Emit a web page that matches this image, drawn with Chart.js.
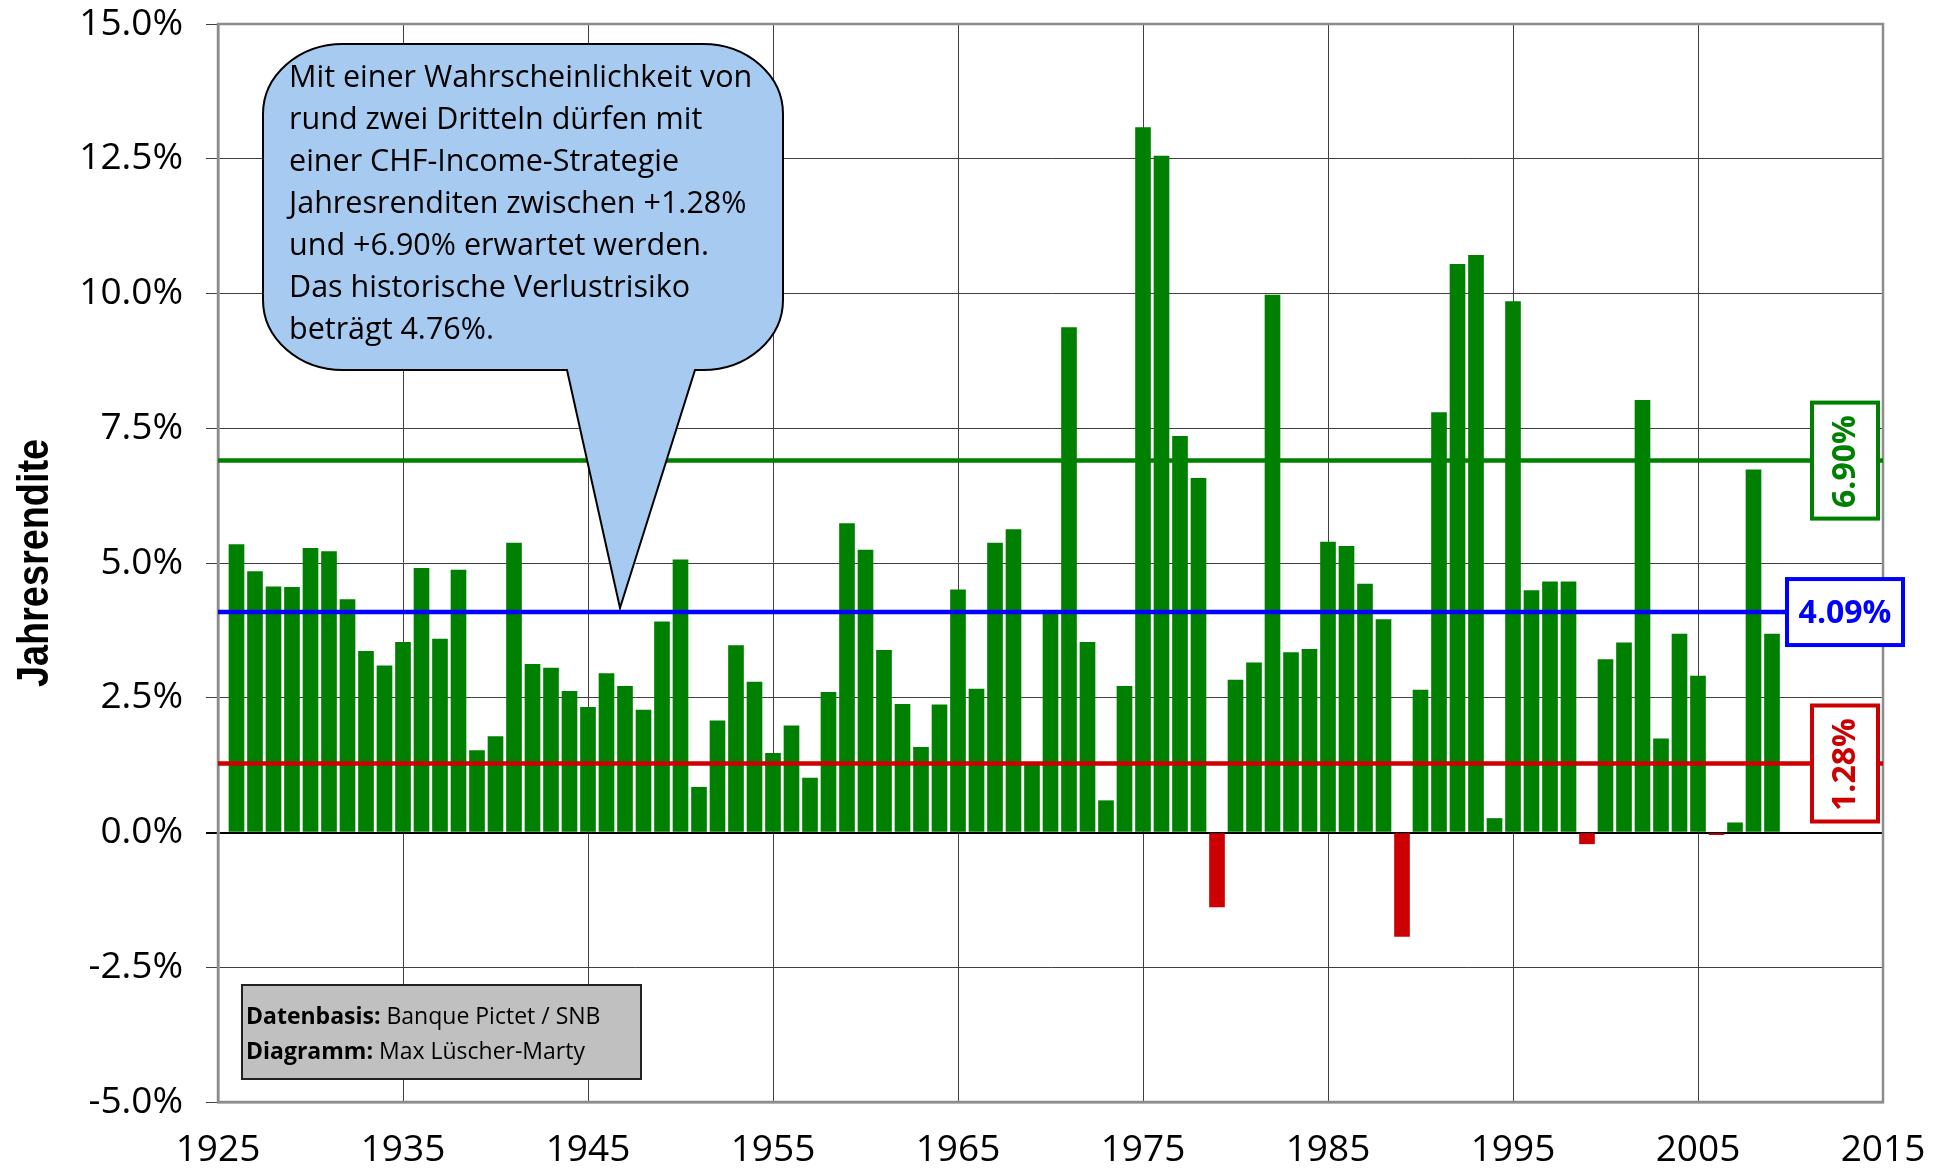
<!DOCTYPE html>
<html>
<head>
<meta charset="utf-8">
<script src="https://cdn.jsdelivr.net/npm/chart.js@4/dist/chart.umd.min.js"></script>
<style>
  body { margin: 0; background: #fff; }
  canvas { display: block; }
</style>
</head>
<body>
<canvas id="chart" width="1948" height="1170"></canvas>
<script>
const years = [
  1926, 1927, 1928, 1929, 1930, 1931, 1932, 1933, 1934, 1935,
  1936, 1937, 1938, 1939, 1940, 1941, 1942, 1943, 1944, 1945,
  1946, 1947, 1948, 1949, 1950, 1951, 1952, 1953, 1954, 1955,
  1956, 1957, 1958, 1959, 1960, 1961, 1962, 1963, 1964, 1965,
  1966, 1967, 1968, 1969, 1970, 1971, 1972, 1973, 1974, 1975,
  1976, 1977, 1978, 1979, 1980, 1981, 1982, 1983, 1984, 1985,
  1986, 1987, 1988, 1989, 1990, 1991, 1992, 1993, 1994, 1995,
  1996, 1997, 1998, 1999, 2000, 2001, 2002, 2003, 2004, 2005,
  2006, 2007, 2008, 2009,
];
const returns = [
  5.34, 4.84, 4.56, 4.55, 5.27, 5.21, 4.32, 3.36, 3.09, 3.53,
  4.90, 3.59, 4.87, 1.52, 1.78, 5.37, 3.12, 3.05, 2.62, 2.32,
  2.95, 2.71, 2.27, 3.91, 5.06, 0.84, 2.07, 3.47, 2.79, 1.47,
  1.98, 1.01, 2.60, 5.73, 5.24, 3.38, 2.38, 1.58, 2.37, 4.50,
  2.66, 5.37, 5.62, 1.27, 4.07, 9.37, 3.53, 0.59, 2.71, 13.08,
  12.55, 7.35, 6.57, -1.38, 2.83, 3.15, 9.97, 3.34, 3.40, 5.39,
  5.31, 4.61, 3.95, -1.93, 2.64, 7.79, 10.54, 10.71, 0.26, 9.85,
  4.49, 4.65, 4.65, -0.21, 3.21, 3.52, 8.02, 1.74, 3.68, 2.90,
  -0.04, 0.18, 6.73, 3.68,
];
// upper bound, mean, lower bound of the one-sigma band
const refLevels = [6.90, 4.09, 1.28];
const xTicks = [1925, 1935, 1945, 1955, 1965, 1975, 1985, 1995, 2005, 2015];
const yTicks = [-5, -2.5, 0, 2.5, 5, 7.5, 10, 12.5, 15];

const calloutLines = [
  "Mit einer Wahrscheinlichkeit von",
  "rund zwei Dritteln dürfen mit",
  "einer CHF-Income-Strategie",
  "Jahresrenditen zwischen +1.28%",
  "und +6.90% erwartet werden.",
  "Das historische Verlustrisiko",
  "beträgt 4.76%.",
];
const sourceLines = [
  ["Datenbasis:", " Banque Pictet / SNB"],
  ["Diagramm:", " Max Lüscher-Marty"],
];
const yTitle = "Jahresrendite";

const GREEN = "#008000";
const RED = "#cc0000";
const BLUE = "#0000ff";
const refColors = [GREEN, BLUE, RED];
const FONT = "'Open Sans', 'Noto Sans', sans-serif";

function roundedCallout(ctx, L, T, R, B, rx, ry, base1, base2, tipX, tipY) {
  const k = 0.5523;
  ctx.beginPath();
  ctx.moveTo(L + rx, T);
  ctx.lineTo(R - rx, T);
  ctx.bezierCurveTo(R - rx + rx * k, T, R, T + ry - ry * k, R, T + ry);
  ctx.lineTo(R, B - ry);
  ctx.bezierCurveTo(R, B - ry + ry * k, R - rx + rx * k, B, R - rx, B);
  ctx.lineTo(base2, B);
  ctx.lineTo(tipX, tipY);
  ctx.lineTo(base1, B);
  ctx.lineTo(L + rx, B);
  ctx.bezierCurveTo(L + rx - rx * k, B, L, B - ry + ry * k, L, B - ry);
  ctx.lineTo(L, T + ry);
  ctx.bezierCurveTo(L, T + ry - ry * k, L + rx - rx * k, T, L + rx, T);
  ctx.closePath();
}

const overlays = {
  id: "overlays",
  beforeDatasetsDraw(chart) {
    const { ctx, chartArea: a } = chart;
    ctx.save();
    ctx.strokeStyle = "#8c8c8c";
    ctx.lineWidth = 2.5;
    ctx.strokeRect(a.left, a.top, a.right - a.left, a.bottom - a.top);
    ctx.restore();
  },
  afterDatasetsDraw(chart) {
    const { ctx, chartArea: a } = chart;
    const yScale = chart.scales.y;
    ctx.save();

    // condensed bold axis title
    ctx.save();
    ctx.translate(34, (a.top + a.bottom) / 2);
    ctx.rotate(-Math.PI / 2);
    ctx.scale(0.86, 1);
    ctx.fillStyle = "#000";
    ctx.font = "bold 44px 'Liberation Sans', Arial, sans-serif";
    ctx.textAlign = "center";
    ctx.textBaseline = "middle";
    ctx.fillText(yTitle, 0, 2);
    ctx.restore();

    // reference lines with their value boxes on the right
    refLevels.forEach((lvl, i) => {
      const y = yScale.getPixelForValue(lvl);
      ctx.strokeStyle = refColors[i];
      ctx.lineWidth = 4.5;
      ctx.beginPath();
      ctx.moveTo(a.left, y);
      ctx.lineTo(a.right, y);
      ctx.stroke();
    });
    refLevels.forEach((lvl, i) => {
      const y = yScale.getPixelForValue(lvl);
      const cx = a.right - 38;
      const vertical = i !== 1;
      const w = vertical ? 66 : 116;
      const h = vertical ? 116 : 66;
      ctx.fillStyle = "#fff";
      ctx.fillRect(cx - w / 2, y - h / 2, w, h);
      ctx.strokeStyle = refColors[i];
      ctx.lineWidth = 4;
      ctx.strokeRect(cx - w / 2, y - h / 2, w, h);
      ctx.fillStyle = refColors[i];
      ctx.font = "bold 32px " + FONT;
      ctx.textAlign = "center";
      ctx.textBaseline = "middle";
      ctx.save();
      ctx.translate(cx, y + 1);
      if (vertical) ctx.rotate(-Math.PI / 2);
      ctx.fillText(lvl.toFixed(2) + "%", 0, 1);
      ctx.restore();
    });

    // speech bubble
    roundedCallout(ctx, 263, 44, 783, 370, 80, 70, 567, 695, 620, 608);
    ctx.fillStyle = "#a6caf0";
    ctx.fill();
    ctx.strokeStyle = "#000";
    ctx.lineWidth = 2;
    ctx.stroke();
    ctx.fillStyle = "#000";
    ctx.font = "30.5px " + FONT;
    ctx.textAlign = "left";
    ctx.textBaseline = "alphabetic";
    calloutLines.forEach((line, i) => ctx.fillText(line, 289, 87 + i * 42));

    // source box
    ctx.fillStyle = "#c0c0c0";
    ctx.fillRect(242, 985, 399, 94);
    ctx.strokeStyle = "#222";
    ctx.lineWidth = 2;
    ctx.strokeRect(242, 985, 399, 94);
    sourceLines.forEach(([label, text], i) => {
      const by = 1024 + i * 35;
      ctx.fillStyle = "#000";
      ctx.font = "bold 23px " + FONT;
      ctx.fillText(label, 246, by);
      const w = ctx.measureText(label).width;
      ctx.font = "23px " + FONT;
      ctx.fillText(text, 246 + w, by);
    });

    ctx.restore();
  },
};

new Chart(document.getElementById("chart"), {
  type: "bar",
  data: {
    datasets: [{
      data: years.map((yr, i) => ({ x: yr, y: returns[i] })),
      backgroundColor: returns.map((v) => (v < 0 ? RED : GREEN)),
      borderWidth: 0,
      barThickness: 15,
    }],
  },
  options: {
    responsive: false,
    devicePixelRatio: 1,
    animation: false,
    layout: { padding: { top: 24, right: 65, left: 0, bottom: 0 } },
    plugins: { legend: { display: false }, tooltip: { enabled: false } },
    scales: {
      x: {
        type: "linear",
        min: xTicks[0],
        max: xTicks[xTicks.length - 1],
        offset: false,
        afterBuildTicks: (s) => { s.ticks = xTicks.map((v) => ({ value: v })); },
        afterFit: (s) => {
          s.height = 68;
          s.paddingLeft = 0;
          s.paddingRight = 0;
        },
        grid: { offset: false, color: "#404040", lineWidth: 1, drawTicks: false },
        border: { color: "#8c8c8c", width: 2.5 },
        ticks: {
          padding: 26,
          color: "#000",
          font: { family: FONT, size: 37 },
          callback: (v) => String(v),
        },
      },
      y: {
        min: yTicks[0],
        max: yTicks[yTicks.length - 1],
        afterBuildTicks: (s) => { s.ticks = yTicks.map((v) => ({ value: v })); },
        afterFit: (s) => {
          s.width = 218;
          s.paddingTop = 0;
          s.paddingBottom = 0;
        },
        grid: {
          color: (c) => (c.tick && c.tick.value === 0 ? "#000" : "#404040"),
          lineWidth: (c) => (c.tick && c.tick.value === 0 ? 2 : 1),
          tickLength: 12,
        },
        border: { color: "#8c8c8c", width: 2.5 },
        ticks: {
          padding: 23,
          color: "#000",
          font: { family: FONT, size: 37 },
          callback: (v) => v.toFixed(1) + "%",
        },
      },
    },
  },
  plugins: [overlays],
});
</script>
</body>
</html>
